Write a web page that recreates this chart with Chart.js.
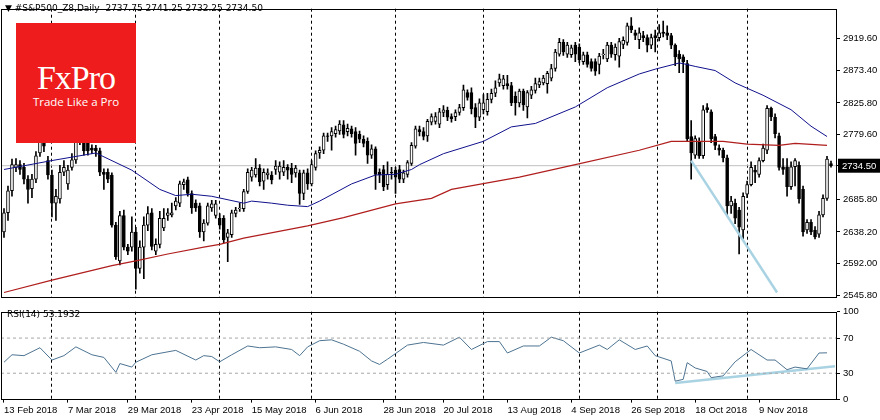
<!DOCTYPE html>
<html>
<head>
<meta charset="utf-8">
<script src="https://cdn.jsdelivr.net/npm/chart.js@4/dist/chart.umd.min.js"></script>
<style>
  body { margin: 0; background: #fff; width: 880px; height: 420px; overflow: hidden; font-family: "DejaVu Sans", sans-serif; }
  #wrap { position: relative; width: 880px; height: 420px; }
  canvas { position: absolute; left: 0; }
  #top { top: 0; }
  #rsi { top: 303px; }
  .txt { position: absolute; font-size: 9px; color: #000; white-space: pre; }
  #logo { position: absolute; left: 16px; top: 23px; width: 120px; height: 120px; background: #ee1c1c; color: #fff; text-align: center; }
  #logo .big { font-family: "Liberation Serif", serif; font-size: 34px; margin-top: 36px; letter-spacing: -1px; }
  #logo .small { font-family: "Open Sans", sans-serif; font-size: 11.5px; margin-top: -3px; }
</style>
</head>
<body>
<div id="wrap">
  <canvas id="top" width="880" height="306"></canvas>
  <canvas id="rsi" width="880" height="117"></canvas>
  <div class="txt" style="left:5px;top:3px">▼ #S&amp;P500_Z8,Daily  2737.75 2741.25 2732.25 2734.50</div>
  <div class="txt" style="left:7px;top:309px">RSI(14) 53.1932</div>
  <div id="logo"><div class="big">FxPro</div><div class="small">Trade Like a Pro</div></div>
</div>
<script>
// daily OHLC, one bar per trading day
const opens = [2638,2666,2698,2732,2736,2732,2715,2701,2715,2753,
  2770,2742,2721,2680,2686,2725,2708,2732,2743,2770,
  2770,2767,2760,2760,2756,2725,2725,2721,2648,2596,
  2662,2616,2616,2638,2585,2616,2648,2666,2610,2620,
  2644,2662,2663,2676,2680,2707,2714,2694,2680,2676,
  2638,2651,2673,2662,2658,2658,2630,2634,2665,2672,
  2672,2697,2718,2721,2731,2712,2721,2721,2729,2725,
  2725,2732,2731,2724,2724,2694,2724,2708,2732,2753,
  2757,2778,2778,2781,2785,2794,2784,2788,2784,2780,
  2773,2770,2750,2759,2725,2729,2707,2725,2728,2729,
  2715,2722,2738,2763,2787,2784,2778,2798,2799,2795,
  2812,2815,2806,2806,2812,2819,2841,2841,2819,2805,
  2816,2813,2831,2840,2855,2851,2854,2851,2836,2826,
  2843,2820,2837,2844,2852,2855,2854,2862,2876,2897,
  2914,2897,2896,2910,2907,2886,2896,2886,2886,2882,
  2896,2890,2910,2896,2894,2911,2914,2938,2928,2918,
  2924,2921,2910,2924,2921,2929,2928,2924,2910,2897,
  2893,2883,2777,2750,2770,2749,2819,2813,2777,2760,
  2757,2746,2676,2680,2670,2641,2693,2707,2728,2722,
  2742,2757,2818,2805,2778,2733,2733,2704,2733,2735,
  2700,2641,2652,2641,2635,2663,2687,2737.75];
const highs = [2672,2705,2744,2745,2742,2738,2720,2722,2755,2790,
  2785,2748,2728,2700,2735,2742,2735,2752,2778,2790,
  2780,2772,2765,2764,2760,2730,2730,2724,2652,2668,
  2670,2620,2660,2645,2625,2660,2675,2672,2628,2668,
  2672,2672,2680,2688,2712,2715,2718,2698,2685,2680,
  2656,2680,2684,2684,2665,2662,2642,2670,2674,2680,
  2700,2730,2732,2745,2736,2730,2730,2726,2742,2740,
  2742,2736,2738,2735,2728,2728,2730,2742,2756,2762,
  2782,2782,2790,2792,2800,2800,2795,2792,2790,2785,
  2778,2775,2765,2762,2730,2735,2740,2732,2732,2735,
  2728,2742,2768,2792,2792,2790,2802,2810,2812,2818,
  2822,2820,2810,2816,2824,2852,2845,2848,2825,2832,
  2838,2840,2846,2858,2868,2866,2866,2856,2842,2846,
  2846,2844,2850,2862,2862,2866,2872,2882,2904,2920,
  2918,2914,2910,2914,2912,2900,2900,2890,2890,2898,
  2904,2914,2914,2912,2920,2922,2942,2950,2932,2935,
  2930,2925,2926,2932,2940,2945,2938,2927,2912,2902,
  2896,2888,2800,2778,2775,2822,2825,2816,2780,2765,
  2760,2750,2690,2686,2674,2695,2712,2740,2735,2746,
  2766,2822,2820,2810,2782,2745,2745,2740,2745,2740,
  2705,2656,2656,2646,2668,2692,2748,2741.25];
const lows = [2630,2655,2690,2726,2722,2708,2680,2688,2710,2748,
  2755,2715,2660,2655,2680,2720,2700,2728,2738,2765,
  2750,2750,2752,2748,2720,2700,2710,2645,2598,2590,
  2612,2605,2610,2555,2578,2570,2640,2612,2605,2615,
  2640,2655,2660,2670,2675,2700,2690,2665,2668,2630,
  2625,2648,2668,2658,2642,2622,2595,2630,2660,2668,
  2668,2694,2712,2718,2705,2700,2715,2708,2722,2715,
  2720,2715,2710,2718,2678,2685,2700,2705,2728,2745,
  2752,2770,2757,2776,2780,2775,2778,2776,2750,2768,
  2762,2738,2745,2700,2710,2698,2700,2715,2694,2710,
  2710,2718,2735,2760,2778,2772,2770,2794,2795,2790,
  2806,2800,2798,2800,2808,2815,2830,2810,2790,2800,
  2810,2808,2826,2835,2850,2846,2846,2822,2808,2820,
  2815,2804,2832,2840,2848,2852,2840,2858,2872,2894,
  2895,2892,2892,2886,2884,2882,2878,2872,2866,2868,
  2890,2886,2892,2888,2878,2905,2910,2928,2918,2905,
  2915,2900,2905,2900,2916,2922,2918,2905,2880,2870,
  2870,2770,2715,2745,2745,2745,2812,2768,2758,2750,
  2740,2662,2665,2650,2606,2628,2688,2705,2710,2718,
  2740,2752,2800,2775,2728,2722,2690,2700,2705,2680,
  2632,2636,2634,2628,2630,2660,2684,2732.25];
const closes = [2666,2698,2736,2736,2729,2715,2700,2715,2749,2770,
  2763,2721,2680,2690,2725,2732,2728,2743,2770,2774,
  2756,2756,2757,2756,2725,2722,2715,2648,2602,2662,
  2616,2610,2638,2585,2616,2648,2665,2617,2620,2658,
  2658,2666,2666,2683,2708,2711,2694,2673,2673,2638,
  2651,2676,2679,2679,2648,2627,2637,2666,2670,2673,
  2697,2725,2728,2731,2711,2725,2724,2714,2734,2734,
  2732,2728,2722,2731,2694,2724,2708,2736,2752,2757,
  2778,2777,2784,2787,2795,2780,2789,2781,2767,2773,
  2767,2750,2759,2722,2721,2704,2722,2724,2718,2715,
  2724,2739,2764,2788,2784,2777,2799,2806,2806,2813,
  2816,2805,2803,2812,2819,2845,2834,2817,2805,2826,
  2826,2831,2840,2848,2861,2861,2851,2826,2826,2843,
  2823,2841,2845,2854,2857,2862,2869,2876,2900,2914,
  2900,2910,2906,2897,2889,2896,2882,2876,2872,2894,
  2897,2910,2897,2907,2915,2917,2938,2932,2924,2928,
  2921,2910,2921,2921,2928,2927,2924,2910,2893,2890,
  2886,2774,2753,2774,2749,2816,2816,2774,2764,2757,
  2746,2676,2683,2658,2645,2690,2707,2732,2725,2742,
  2760,2818,2806,2781,2732,2729,2704,2733,2742,2686,
  2638,2652,2638,2631,2663,2687,2744,2734.5];

// moving averages (bar index, price)
const ma50Idx = [0,12,23,32,39,43,47,52,60,62,67,71,76,79,87,93,98,102,104,110,120,127,133,143,151,159,163,169,170,173,178,183,190,197,202,206];
const ma50Val = [2729,2742,2753,2728,2700,2691,2693,2690,2680,2683,2680,2677,2675,2683,2708,2721,2722,2729,2736,2752,2770,2791,2796,2820,2848,2868,2875,2884,2883,2879,2873,2855,2837,2816,2792,2777];
const ma200Idx = [0,12,27,33,41,50,54,60,76,85,98,107,112,129,143,159,167,180,186,194,198,206];
const ma200Val = [2550,2568,2589,2596,2606,2616,2620,2629,2647,2659,2679,2687,2700,2718,2736,2757,2770,2770,2766,2764,2767,2764];
const trendIdx = [172, 193.5];
const trendVal = [2742, 2550];
const lastPrice = 2734.5;

const priceTicks = [2545.80, 2592.00, 2638.20, 2685.80, 2734.50, 2779.60, 2825.80, 2873.40, 2919.60];

// RSI(14)
const rsiIdx = [0,2,5,9,12,15,18,22,25,28,29,32,33,37,43,48,50,52,54,57,61,64,68,72,74,76,79,82,85,89,92,94,96,101,105,110,114,117,121,124,126,130,134,137,140,144,149,151,154,158,161,163,167,168,170,171,173,176,177,180,183,187,191,193,196,198,201,204,206];
const rsiVal = [42.5,51,50,59,45,50,60,51,48,31,41,37,42.5,51,56,45,50,49,43,51,61,59,60,57,50,60,67,68,63,55,44,40,46,62,65,62,71,57,66,66,53,61,61,71,67,53,62,57,68,57,61,50,44,21,23,42,36,32,25,27,43,57,45,45,34,37,35,53,53.2];
const rsiLevels = [70, 30];
const rsiTicks = [0, 30, 70, 100];
const rsiTrendIdx = [168, 208];
const rsiTrendVal = [19, 38];

const dateIdx = [0,16,31,47,62,78,95,110,126,142,157,173,189];
const dateLabels = ['13 Feb 2018','7 Mar 2018','29 Mar 2018','23 Apr 2018','15 May 2018','6 Jun 2018','28 Jun 2018','20 Jul 2018','13 Aug 2018','4 Sep 2018','26 Sep 2018','18 Oct 2018','9 Nov 2018'];
const gridIdx = [12,33,54,77,98,120,144,163.5,186];

const X_MIN = -0.75, X_MAX = 208.5;
const FONT = { family: 'Liberation Sans', size: 9.5 };
const pts = (xs, ys) => xs.map((x, i) => ({ x: x, y: ys[i] }));

function frame(color) {
    return {
        id: 'frame',
        afterDraw(chart) {
            const a = chart.chartArea, c = chart.ctx;
            c.save();
            c.strokeStyle = color;
            c.lineWidth = 1;
            c.strokeRect(Math.round(a.left) + 0.5, Math.round(a.top) + 0.5, Math.round(a.right - a.left) - 1, Math.round(a.bottom - a.top) - 1);
            c.restore();
        }
    };
}

const priceBox = {
    id: 'priceBox',
    afterDraw(chart) {
        const y = chart.scales.y.getPixelForValue(lastPrice), c = chart.ctx;
        const x0 = chart.chartArea.right + 1;
        c.save();
        c.fillStyle = '#000';
        c.fillRect(x0, y - 7, 880 - x0, 14);
        c.fillStyle = '#fff';
        c.font = '9.5px "Liberation Sans"';
        c.textBaseline = 'middle';
        c.fillText(lastPrice.toFixed(2), x0 + 4, y + 0.5);
        c.restore();
    }
};

function gridAxis() {
    return {
        type: 'linear', min: X_MIN, max: X_MAX, offset: false,
        afterBuildTicks: s => { s.ticks = gridIdx.map(v => ({ value: v })); },
        ticks: { display: false },
        grid: { color: '#000', drawTicks: false, lineWidth: 1, offset: false },
        border: { display: false, dash: [3, 3] },
        afterFit: s => { s.height = 0; }
    };
}

// ---- price panel
const bars = closes.map((c, i) => ({ x: i, y: [opens[i], c] }));
const wicks = closes.map((c, i) => ({ x: i, y: [lows[i], highs[i]] }));

new Chart(document.getElementById('top'), {
    type: 'bar',
    data: {
        datasets: [
            { type: 'line', data: [{ x: X_MIN, y: lastPrice }, { x: X_MAX, y: lastPrice }], borderColor: '#c0c0c0', borderWidth: 1, pointRadius: 0, order: 5 },
            { data: wicks, backgroundColor: '#000', barThickness: 1, grouped: false, order: 4 },
            { data: bars, backgroundColor: bars.map((b, i) => closes[i] >= opens[i] ? '#fff' : '#000'), borderColor: '#000', borderWidth: 1, borderSkipped: false, barThickness: 3, grouped: false, order: 3 },
            { type: 'line', data: pts(ma50Idx, ma50Val), borderColor: '#10108c', borderWidth: 1, pointRadius: 0, order: 2 },
            { type: 'line', data: pts(ma200Idx, ma200Val), borderColor: '#b01e1e', borderWidth: 1.2, pointRadius: 0, order: 2 },
            { type: 'line', data: pts(trendIdx, trendVal), borderColor: '#a9d3e3', borderWidth: 2.5, pointRadius: 0, order: 1 }
        ]
    },
    options: {
        responsive: false, animation: false,
        layout: { padding: { left: 1, top: 5, bottom: 3 } },
        plugins: { legend: { display: false }, tooltip: { enabled: false } },
        scales: {
            x: gridAxis(),
            y: {
                position: 'right', min: 2543, max: 2963,
                afterBuildTicks: s => { s.ticks = priceTicks.map(v => ({ value: v })); },
                ticks: { color: '#000', font: FONT, padding: 3, callback: v => v.toFixed(2) },
                grid: { drawOnChartArea: false, color: '#000', tickLength: 3 },
                border: { display: false },
                afterFit: s => { s.width = 43; }
            }
        }
    },
    plugins: [frame('#000'), priceBox]
});

// ---- RSI panel
new Chart(document.getElementById('rsi'), {
    type: 'line',
    data: {
        datasets: [
            { data: pts([X_MIN, X_MAX], [rsiLevels[0], rsiLevels[0]]), borderColor: '#a8a8a8', borderDash: [3, 3], borderWidth: 1, pointRadius: 0 },
            { data: pts([X_MIN, X_MAX], [rsiLevels[1], rsiLevels[1]]), borderColor: '#a8a8a8', borderDash: [3, 3], borderWidth: 1, pointRadius: 0 },
            { data: pts(rsiIdx, rsiVal), borderColor: '#4d7391', borderWidth: 1, pointRadius: 0 },
            { data: pts(rsiTrendIdx, rsiTrendVal), borderColor: '#a9d3e3', borderWidth: 2.5, pointRadius: 0 }
        ]
    },
    options: {
        responsive: false, animation: false,
        layout: { padding: { left: 1, top: 3, bottom: 2 } },
        plugins: { legend: { display: false }, tooltip: { enabled: false } },
        scales: {
            x2: gridAxis(),
            x: {
                type: 'linear', position: 'bottom', min: X_MIN, max: X_MAX,
                afterBuildTicks: s => { s.ticks = dateIdx.map(v => ({ value: v })); },
                ticks: {
                    color: '#000', font: FONT, align: 'start', autoSkip: false, maxRotation: 0, padding: 2,
                    callback: v => dateLabels[dateIdx.indexOf(v)]
                },
                grid: { drawOnChartArea: false, color: '#000', tickLength: 3 },
                border: { display: false }
            },
            y: {
                position: 'right', min: 0, max: 100,
                afterBuildTicks: s => { s.ticks = rsiTicks.map(v => ({ value: v })); },
                ticks: { color: '#000', font: FONT, padding: 3 },
                grid: { drawOnChartArea: false, color: '#000', tickLength: 3 },
                border: { display: false },
                afterFit: s => { s.width = 43; }
            }
        }
    },
    plugins: [frame('#000')]
});
</script>
</body>
</html>
